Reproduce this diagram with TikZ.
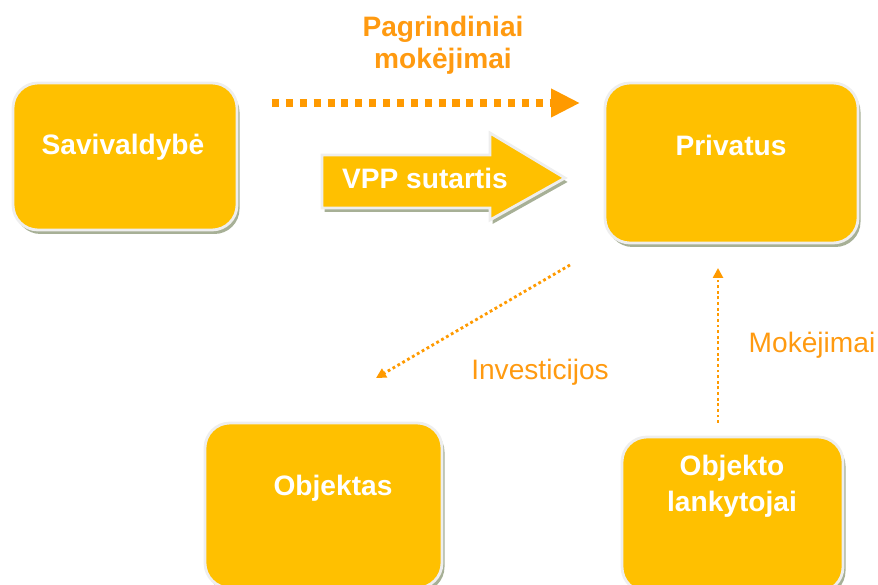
\documentclass[tikz,border=0pt]{standalone}
\usepackage{fontspec}
\setmainfont{Liberation Sans}
\usetikzlibrary{
  positioning,
  arrows.meta,
  shadows
}
\definecolor{vppYellow}{HTML}{FFC000}
\definecolor{vppOrange}{HTML}{FF9A00}
\definecolor{vppLabel}{HTML}{FF9A10}
\definecolor{vppEdge}{HTML}{EEEEEE}
\definecolor{vppShadow}{HTML}{A7B096}

\begin{document}
\begin{tikzpicture}[
  every node/.style={align=center, inner sep=2pt},
  partybox/.style={
    rectangle, rounded corners=0.5cm,
    draw=vppEdge, fill=vppYellow, line width=1.6pt,
    drop shadow={shadow xshift=0.05cm, shadow yshift=-0.08cm,
      fill=vppShadow, opacity=1}
  },
  boxtext/.style={font=\fontsize{16}{18.5}\selectfont\bfseries, text=white},
  flowlabel/.style={font=\fontsize{16}{18.5}\selectfont, text=vppLabel},
  mainflow/.style={
    draw=vppOrange, line width=4pt, dash pattern=on 4pt off 3.9pt,
    -{Triangle[length=0.58cm, width=0.54cm]}
  },
  sideflow/.style={
    draw=vppOrange, line width=1.6pt, dash pattern=on 1.6pt off 1.6pt,
    -{Triangle[length=0.2cm, width=0.2cm]}
  }
]
 % Page size 878 x 585 px at 0.02 cm/px
 \useasboundingbox (0,0) rectangle (17.56,11.70);

 % Boxes
 \node[partybox, minimum width=4.48cm, minimum height=2.94cm] (sav) at (2.50,8.57) {};
 \node[partybox, minimum width=5.06cm, minimum height=3.20cm] (priv) at (14.63,8.44) {};
 \node[partybox, minimum width=4.74cm, minimum height=3.30cm] (obj) at (6.47,1.59) {};
 \node[partybox, minimum width=4.42cm, minimum height=3.10cm] (visit) at (14.65,1.41) {};

 % Box texts
 \node[boxtext] (savT) at (2.46,8.76) {Savivaldybė};
 \node[boxtext] (privT) at (14.62,8.80) {Privatus};
 \node[boxtext] (objT) at (6.66,1.94) {Objektas};
 \node[boxtext, font=\fontsize{16}{20.5}\selectfont\bfseries] (visitT) at (14.64,1.98) {Objekto\\lankytojai};

 % Contract arrow
 \draw[draw=vppEdge, line width=1.6pt, fill=vppYellow,
   drop shadow={shadow xshift=0.05cm, shadow yshift=-0.08cm, fill=vppShadow, opacity=1}]
   (6.44,8.60) -- (9.80,8.60) -- (9.80,9.04) -- (11.30,8.14)
   -- (9.80,7.30) -- (9.80,7.54) -- (6.44,7.54) -- cycle;
 \node[boxtext] (vpp) at (8.50,8.14) {VPP sutartis};

 % Flow end points
 \coordinate (payS) at (5.44,9.64);
 \coordinate (payE) at (11.60,9.64);
 \coordinate (invS) at (11.40,6.40);
 \coordinate (invE) at (7.52,4.14);
 \coordinate (feeS) at (14.36,3.24);
 \coordinate (feeE) at (14.36,6.34);

 % Flows
 \draw[mainflow] (payS) -- (payE);
 \draw[sideflow] (invS) -- (invE);
 \draw[sideflow] (feeS) -- (feeE);

 % Flow labels
 \node[flowlabel, font=\fontsize{16}{18.5}\selectfont\bfseries] (payL) at (8.86,10.80) {Pagrindiniai\\mokėjimai};
 \node[flowlabel] (invL) at (10.80,4.26) {Investicijos};
 \node[flowlabel] (feeL) at (16.24,4.80) {Mokėjimai};
\end{tikzpicture}
\end{document}
